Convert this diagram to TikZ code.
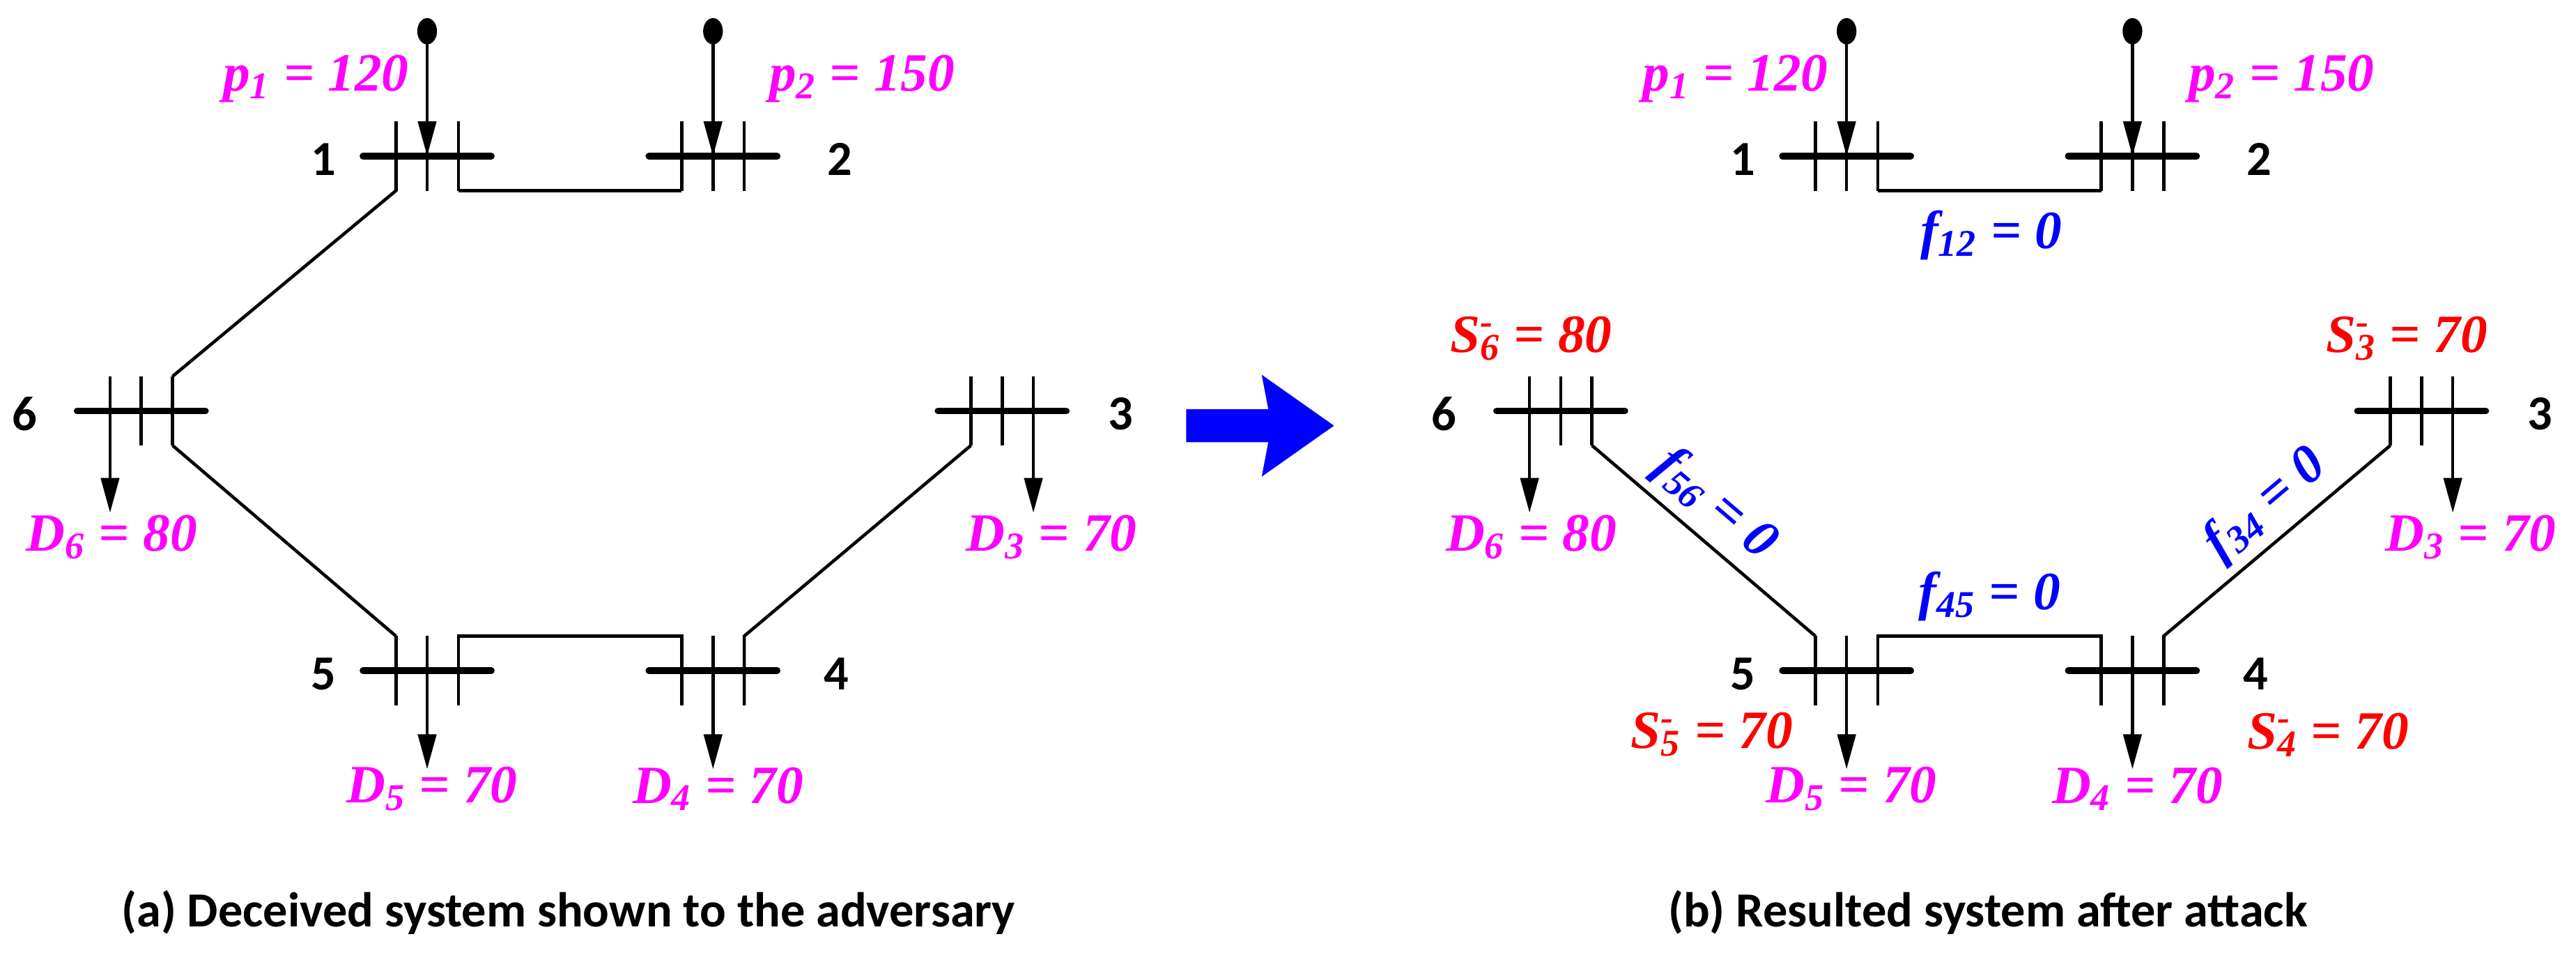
\documentclass[tikz,border=0pt]{standalone}
\usepackage{fontspec}
\setmainfont{Liberation Serif}
\newfontfamily\capfont{Carlito}
\usetikzlibrary{arrows.meta,calc}
\definecolor{mag}{RGB}{255,0,255}
\definecolor{myblue}{RGB}{0,0,255}
\definecolor{myred}{RGB}{255,0,0}
\newcommand\sub[1]{\textsubscript{#1}}
\newcommand\ssub[2]{\rlap{\textsuperscript{#2}}\textsubscript{#1}}
\newcommand\mkbus[3]{%
  \coordinate (#1) at (#2,#3);
  \coordinate (#1-lt) at ($(#1)+(-19,-21)$);
  \coordinate (#1-lb) at ($(#1)+(-19,21)$);
  \coordinate (#1-ct) at ($(#1)+(0,-21)$);
  \coordinate (#1-cb) at ($(#1)+(0,21)$);
  \coordinate (#1-rt) at ($(#1)+(19,-21)$);
  \coordinate (#1-rb) at ($(#1)+(19,21)$);
  \draw[bar] ($(#1)+(-39,0)$) -- ($(#1)+(39,0)$);
  \draw[thin line] (#1-lt) -- (#1-lb);
  \draw[thin line] (#1-ct) -- (#1-cb);
  \draw[thin line] (#1-rt) -- (#1-rb);
}
\begin{document}
\begin{tikzpicture}[x=0.2358mm,y=-0.2358mm,
  bar/.style={line width=2.8pt,line cap=round},
  thin line/.style={line width=1.3pt},
  line/.style={line width=1.3pt,line join=miter},
  flow/.style={line width=1.3pt,-{Triangle[length=5mm,width=2.6mm]}},
  busno/.style={font=\capfont\bfseries\fontsize{20}{20}\selectfont},
  val/.style={font=\bfseries\itshape\fontsize{22}{22}\selectfont},
  captiontext/.style={font=\capfont\bfseries\fontsize{20}{20}\selectfont}]
\useasboundingbox (0,0) rectangle (1568,581);
% ---------- left panel ----------
\mkbus{a1}{260}{95}
\mkbus{a2}{434}{95}
\mkbus{a6}{86}{250}
\mkbus{a3}{610}{250}
\mkbus{a5}{260}{408}
\mkbus{a4}{434}{408}
\draw[line] (a1-rb) -- (a2-lb);
\draw[line] (a1-lt) -- (a1-lb) -- (a6-rt);
\draw[line] (a6-rb) -- (a5-lt);
\draw[line] (a5-rb) -- (a5-rt) -- (a4-lt) -- (a4-lb);
\draw[line] (a4-rb) -- (a4-rt) -- (a3-lb);
\fill (260,19) ellipse (6 and 8) coordinate (ag1);
\fill (434,19) ellipse (6 and 8) coordinate (ag2);
\draw[flow] (ag1) -- (a1);
\draw[flow] (ag2) -- (a2);
\coordinate (ad6) at (67,312);
\coordinate (ad3) at (629,312);
\coordinate (ad5) at (260,468);
\coordinate (ad4) at (434,468);
\draw[flow] ($(a6)+(-19,0)$) -- (ad6);
\draw[flow] ($(a3)+(19,0)$) -- (ad3);
\draw[flow] (a5) -- (ad5);
\draw[flow] (a4) -- (ad4);
\node[busno] (an1) at (197,97) {1};
\node[busno] (an2) at (511,97) {2};
\node[busno] (an6) at (15,252) {6};
\node[busno] (an3) at (682,252) {3};
\node[busno] (an5) at (197,410) {5};
\node[busno] (an4) at (509,410) {4};
\node[val,mag,anchor=east] (ap1) at (254,48) {p\sub{1} = 120};
\node[val,mag,anchor=west] (ap2) at (463,48) {p\sub{2} = 150};
\node[val,mag] (aD6) at (68,327) {D\sub{6} = 80};
\node[val,mag] (aD3) at (640,327) {D\sub{3} = 70};
\node[val,mag] (aD5) at (263,480) {D\sub{5} = 70};
\node[val,mag] (aD4) at (437,480) {D\sub{4} = 70};
\node[captiontext] (capa) at (346,555) {(a) Deceived system shown to the adversary};
% ---------- arrow ----------
\fill[myblue] (722,249) -- (772,249) -- (768,228) -- (812,259) -- (768,290) -- (772,269) -- (722,269) -- cycle;
% ---------- right panel ----------
\mkbus{b1}{1124}{95}
\mkbus{b2}{1298}{95}
\mkbus{b6}{950}{250}
\mkbus{b3}{1474}{250}
\mkbus{b5}{1124}{408}
\mkbus{b4}{1298}{408}
\draw[line] (b1-rb) -- (b2-lb);
\draw[line] (b6-rb) -- node[val,myblue,sloped,above,pos=0.45] (f56) {f\sub{56} = 0} (b5-lt);
\draw[line] (b5-rb) -- (b5-rt) -- node[val,myblue,above=2pt] (f45) {f\sub{45} = 0} (b4-lt) -- (b4-lb);
\draw[line] (b4-rb) -- (b4-rt) -- node[val,myblue,sloped,above,pos=0.55] (f34) {f\sub{34} = 0} (b3-lb);
\fill (1124,19) ellipse (6 and 8) coordinate (bg1);
\fill (1298,19) ellipse (6 and 8) coordinate (bg2);
\draw[flow] (bg1) -- (b1);
\draw[flow] (bg2) -- (b2);
\coordinate (bd6) at (931,312);
\coordinate (bd3) at (1493,312);
\coordinate (bd5) at (1124,468);
\coordinate (bd4) at (1298,468);
\draw[flow] ($(b6)+(-19,0)$) -- (bd6);
\draw[flow] ($(b3)+(19,0)$) -- (bd3);
\draw[flow] (b5) -- (bd5);
\draw[flow] (b4) -- (bd4);
\node[busno] (bn1) at (1061,97) {1};
\node[busno] (bn2) at (1375,97) {2};
\node[busno] (bn6) at (879,252) {6};
\node[busno] (bn3) at (1546,252) {3};
\node[busno] (bn5) at (1061,410) {5};
\node[busno] (bn4) at (1373,410) {4};
\node[val,mag,anchor=east] (bp1) at (1118,48) {p\sub{1} = 120};
\node[val,mag,anchor=west] (bp2) at (1327,48) {p\sub{2} = 150};
\node[val,mag] (bD6) at (932,327) {D\sub{6} = 80};
\node[val,mag] (bD3) at (1504,327) {D\sub{3} = 70};
\node[val,mag] (bD5) at (1127,480) {D\sub{5} = 70};
\node[val,mag] (bD4) at (1301,480) {D\sub{4} = 70};
\node[val,myblue] (f12) at (1212,143) {f\sub{12} = 0};
\node[val,myred] (s6) at (932,206) {S\ssub{6}{-} = 80};
\node[val,myred] (s3) at (1465,206) {S\ssub{3}{-} = 70};
\node[val,myred] (s5) at (1042,447) {S\ssub{5}{-} = 70};
\node[val,myred] (s4) at (1417,447) {S\ssub{4}{-} = 70};
\node[captiontext] (capb) at (1210,555) {(b) Resulted system after attack};
\end{tikzpicture}
\end{document}
